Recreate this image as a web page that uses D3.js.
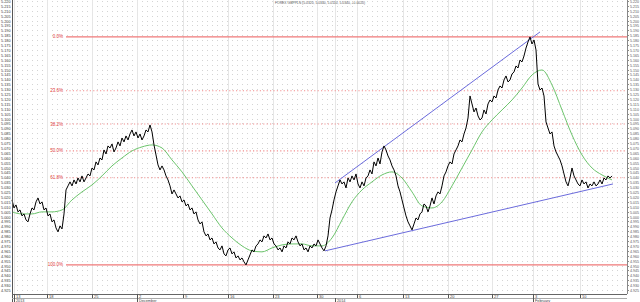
<!DOCTYPE html>
<html>
<head>
<meta charset="utf-8">
<script src="https://cdn.jsdelivr.net/npm/d3@7/dist/d3.min.js"></script>
<style>
  html, body { margin: 0; padding: 0; background: #fff; }
  svg { display: block; font-family: "Liberation Sans", Arial, sans-serif; }
</style>
</head>
<body>
<div id="chart"></div>
<script>
// GBPPLN closes, one value per bar (bar 0 = first bar on the chart)
const closes = [
  5.0170, 5.0088, 5.0119, 5.0048, 5.0068, 5.0007, 5.0027, 4.9966, 4.9946, 5.0027,
  5.0088, 5.0068, 5.0150, 5.0190, 5.0129, 5.0150, 5.0068, 5.0088, 5.0007, 5.0027,
  4.9946, 4.9966, 4.9884, 4.9844, 4.9905, 4.9874, 5.0027, 5.0272, 5.0313, 5.0354,
  5.0313, 5.0374, 5.0333, 5.0394, 5.0354, 5.0415, 5.0354, 5.0394, 5.0435, 5.0415,
  5.0496, 5.0476, 5.0558, 5.0527, 5.0598, 5.0578, 5.0680, 5.0639, 5.0721, 5.0700,
  5.0741, 5.0660, 5.0700, 5.0762, 5.0721, 5.0802, 5.0762, 5.0823, 5.0782, 5.0843,
  5.0884, 5.0823, 5.0864, 5.0802, 5.0843, 5.0782, 5.0823, 5.0884, 5.0864, 5.0935,
  5.0864, 5.0731, 5.0629, 5.0527, 5.0476, 5.0517, 5.0476, 5.0415, 5.0374, 5.0313,
  5.0231, 5.0272, 5.0231, 5.0190, 5.0211, 5.0150, 5.0170, 5.0109, 5.0129, 5.0068,
  5.0088, 5.0027, 5.0048, 4.9966, 4.9925, 4.9946, 4.9844, 4.9803, 4.9823, 4.9762,
  4.9782, 4.9721, 4.9742, 4.9680, 4.9660, 4.9701, 4.9619, 4.9599, 4.9660, 4.9680,
  4.9619, 4.9640, 4.9578, 4.9599, 4.9558, 4.9578, 4.9538, 4.9507, 4.9558, 4.9609,
  4.9660, 4.9640, 4.9701, 4.9721, 4.9762, 4.9742, 4.9803, 4.9782, 4.9823, 4.9762,
  4.9782, 4.9721, 4.9701, 4.9660, 4.9680, 4.9640, 4.9701, 4.9680, 4.9742, 4.9721,
  4.9782, 4.9762, 4.9803, 4.9742, 4.9701, 4.9721, 4.9660, 4.9680, 4.9640, 4.9701,
  4.9680, 4.9721, 4.9701, 4.9762, 4.9721, 4.9680, 4.9650, 4.9701, 4.9803, 4.9986,
  5.0068, 5.0170, 5.0252, 5.0313, 5.0374, 5.0333, 5.0354, 5.0292, 5.0394, 5.0354,
  5.0415, 5.0374, 5.0435, 5.0333, 5.0292, 5.0354, 5.0313, 5.0394, 5.0415, 5.0476,
  5.0435, 5.0558, 5.0517, 5.0598, 5.0537, 5.0660, 5.0721, 5.0680, 5.0619, 5.0578,
  5.0517, 5.0476, 5.0415, 5.0313, 5.0252, 5.0170, 5.0088, 5.0007, 4.9946, 4.9905,
  4.9864, 4.9925, 4.9986, 4.9966, 5.0027, 5.0048, 5.0129, 5.0109, 5.0048, 5.0109,
  5.0190, 5.0129, 5.0211, 5.0252, 5.0231, 5.0313, 5.0415, 5.0456, 5.0517, 5.0558,
  5.0537, 5.0639, 5.0680, 5.0721, 5.0782, 5.0762, 5.0843, 5.0904, 5.1006, 5.1231,
  5.1149, 5.1068, 5.1108, 5.1027, 5.0986, 5.1006, 5.1088, 5.1047, 5.1149, 5.1190,
  5.1170, 5.1231, 5.1210, 5.1292, 5.1333, 5.1312, 5.1394, 5.1435, 5.1374, 5.1394,
  5.1455, 5.1476, 5.1537, 5.1516, 5.1598, 5.1578, 5.1639, 5.1720, 5.1782, 5.1833,
  5.1761, 5.1802, 5.1700, 5.1353, 5.1292, 5.1312, 5.1231, 5.0966, 5.0904, 5.0843,
  5.0864, 5.0721, 5.0660, 5.0619, 5.0578, 5.0517, 5.0435, 5.0354, 5.0313, 5.0394,
  5.0496, 5.0415, 5.0374, 5.0333, 5.0313, 5.0374, 5.0333, 5.0354, 5.0292, 5.0333,
  5.0313, 5.0354, 5.0313, 5.0333, 5.0374, 5.0333, 5.0394, 5.0374, 5.0415, 5.0394,
  5.0415
];

// moving average (green), read every 5 bars
const maStep = 5;
const maValues = [
  5.0048, 5.0027, 5.0027, 5.0048, 5.0048, 5.0068, 5.0170, 5.0252, 5.0323, 5.0415,
  5.0517, 5.0598, 5.0670, 5.0711, 5.0731, 5.0700, 5.0578, 5.0456, 5.0313, 5.0170,
  5.0027, 4.9884, 4.9782, 4.9701, 4.9650, 4.9640, 4.9680, 4.9711, 4.9721, 4.9721,
  4.9701, 4.9701, 4.9782, 4.9966, 5.0150, 5.0272, 5.0354, 5.0425, 5.0456, 5.0394,
  5.0252, 5.0109, 5.0088, 5.0150, 5.0313, 5.0496, 5.0680, 5.0864, 5.0986, 5.1088,
  5.1190, 5.1312, 5.1445, 5.1496, 5.1343, 5.1088, 5.0833, 5.0629, 5.0496, 5.0425,
  5.0374
];

// trend lines: [bar, price] end points
const trendLines = [
  [[156.5, 4.9650], [300.5, 5.0333]],
  [[161.5, 5.0343], [264, 5.1884]]
];

const fibLevels = [0, 0.236, 0.382, 0.5, 0.618, 1];
const fibLabels = ["0.0%", "23.6%", "38.2%", "50.0%", "61.8%", "100.0%"];

// x-axis: bar positions of the day ticks and the month/year marks
const dayTicks = [
  { bar: 1, label: "13" }, { bar: 17.5, label: "18" }, { bar: 40, label: "25" },
  { bar: 62.5, label: "2" }, { bar: 85.5, label: "9" }, { bar: 108, label: "16" },
  { bar: 130.5, label: "23" }, { bar: 152.5, label: "30" }, { bar: 172.5, label: "6" },
  { bar: 195.5, label: "13" }, { bar: 218, label: "20" }, { bar: 240, label: "27" },
  { bar: 260.5, label: "3" }, { bar: 284, label: "10" }
];
const periodTicks = [
  { bar: 1, label: "2013" }, { bar: 62.5, label: "December" },
  { bar: 161.5, label: "2014" }, { bar: 260.5, label: "February" }
];

const title = "FOREX GBPPLN (5.0320, 5.0340, 5.0110, 5.0340, +0.0020)";

const width = 640, height = 302;
const plot = { left: 12, right: 627, top: 0, bottom: 294 };

const svg = d3.select('#chart').append('svg')
  .attr('width', width)
  .attr('height', height);

const x = d3.scaleLinear().domain([0, 307.5]).range([plot.left, plot.right]);
const y = d3.scaleLinear().domain([4.921, 5.221]).range([plot.bottom, plot.top]);

const priceTicks = d3.range(4.925, 5.2201, 0.005);
const fmt = d3.format('.3f');

// horizontal dotted grid
svg.append('g').selectAll('line')
  .data(priceTicks)
  .join('line')
  .attr('x1', plot.left).attr('x2', plot.right)
  .attr('y1', d => Math.round(y(d)) + 0.5).attr('y2', d => Math.round(y(d)) + 0.5)
  .style('stroke', '#d4d4d4')
  .style('stroke-width', 1)
  .style('stroke-dasharray', '1,4');

// vertical grid
svg.append('g').selectAll('line')
  .data(dayTicks.concat(periodTicks.filter(p => p.label === "2014")))
  .join('line')
  .attr('x1', d => Math.round(x(d.bar)) + 0.5).attr('x2', d => Math.round(x(d.bar)) + 0.5)
  .attr('y1', plot.top).attr('y2', plot.bottom)
  .style('stroke', '#e6e6e6')
  .style('stroke-width', 1);

// fibonacci retracement
const hi = d3.max(closes), lo = d3.min(closes);
const fib = svg.append('g');
fibLevels.forEach((lvl, i) => {
  const yy = y(hi - lvl * (hi - lo));
  const solid = lvl === 0 || lvl === 1;
  fib.append('line')
    .attr('x1', 66).attr('x2', plot.right)
    .attr('y1', yy).attr('y2', yy)
    .attr('stroke', solid ? '#ef7878' : '#f29090')
    .attr('stroke-width', solid ? 1.25 : 1.1)
    .attr('stroke-dasharray', solid ? 'none' : '1.2,2.2');
  fib.append('text')
    .attr('x', 63).attr('y', yy + 1.5)
    .attr('text-anchor', 'end')
    .style('font-size', '4.5px')
    .style('fill', '#e03c3c')
    .text(fibLabels[i]);
});

// moving average
const maLine = d3.line()
  .x((d, i) => x(i * maStep))
  .y(d => y(d))
  .curve(d3.curveMonotoneX);
svg.append('path')
  .datum(maValues)
  .attr('d', maLine)
  .style('fill', 'none')
  .style('stroke', '#6cc46c')
  .style('stroke-width', 1);

// trend lines
svg.append('g').selectAll('line')
  .data(trendLines)
  .join('line')
  .attr('x1', d => x(d[0][0])).attr('y1', d => y(d[0][1]))
  .attr('x2', d => x(d[1][0])).attr('y2', d => y(d[1][1]))
  .style('stroke', '#6b6bdc')
  .style('stroke-width', 1);

// price
const priceLine = d3.line()
  .x((d, i) => x(i))
  .y(d => y(d));
svg.append('path')
  .datum(closes)
  .attr('d', priceLine)
  .style('fill', 'none')
  .style('stroke', '#000')
  .style('stroke-width', 1);

// frame
svg.append('line')
  .attr('x1', plot.left + 0.5).attr('x2', plot.left + 0.5)
  .attr('y1', 0).attr('y2', height)
  .style('stroke', '#555');
svg.append('line')
  .attr('x1', plot.right + 0.5).attr('x2', plot.right + 0.5)
  .attr('y1', 0).attr('y2', plot.bottom)
  .style('stroke', '#888');
svg.append('line')
  .attr('x1', plot.left).attr('x2', plot.right)
  .attr('y1', plot.bottom + 0.5).attr('y2', plot.bottom + 0.5)
  .style('stroke', '#666');
svg.append('line')
  .attr('x1', plot.left).attr('x2', plot.right)
  .attr('y1', 298.5).attr('y2', 298.5)
  .style('stroke', '#aaa');

// right axis
const rightAxis = svg.append('g');
priceTicks.forEach(p => {
  const yy = Math.round(y(p)) + 0.5;
  rightAxis.append('line')
    .attr('x1', plot.right).attr('x2', plot.right + 2)
    .attr('y1', yy).attr('y2', yy)
    .style('stroke', '#888');
  rightAxis.append('text')
    .attr('x', plot.right + 3).attr('y', yy + 1.4)
    .attr('textLength', 9)
    .attr('lengthAdjust', 'spacingAndGlyphs')
    .style('font-size', '4px')
    .style('fill', '#555')
    .text(fmt(p));
});

// left axis
const leftAxis = svg.append('g');
priceTicks.forEach(p => {
  const yy = Math.round(y(p)) + 0.5;
  leftAxis.append('text')
    .attr('x', 1).attr('y', yy + 1.4)
    .attr('textLength', 9.5)
    .attr('lengthAdjust', 'spacingAndGlyphs')
    .style('font-size', '4px')
    .style('fill', '#333')
    .text(fmt(p));
});

// bottom axis
const bottom = svg.append('g');
dayTicks.forEach(t => {
  const xx = Math.round(x(t.bar)) + 0.5;
  bottom.append('line')
    .attr('x1', xx).attr('x2', xx)
    .attr('y1', plot.bottom).attr('y2', 298)
    .style('stroke', '#555');
  bottom.append('text')
    .attr('x', xx + 1.5).attr('y', 297.8)
    .style('font-size', '4px')
    .style('fill', '#444')
    .text(t.label);
});
periodTicks.forEach(t => {
  const xx = Math.round(x(t.bar)) + 0.5;
  bottom.append('line')
    .attr('x1', xx).attr('x2', xx)
    .attr('y1', 298).attr('y2', height)
    .style('stroke', '#555');
  bottom.append('text')
    .attr('x', xx + 1.5).attr('y', 301.8)
    .style('font-size', '3.8px')
    .style('fill', '#444')
    .text(t.label);
});

// title
svg.append('text')
  .attr('x', 275).attr('y', 4)
  .attr('textLength', 90)
  .attr('lengthAdjust', 'spacingAndGlyphs')
  .style('font-size', '4px')
  .style('fill', '#555')
  .text(title);
</script>
</body>
</html>
